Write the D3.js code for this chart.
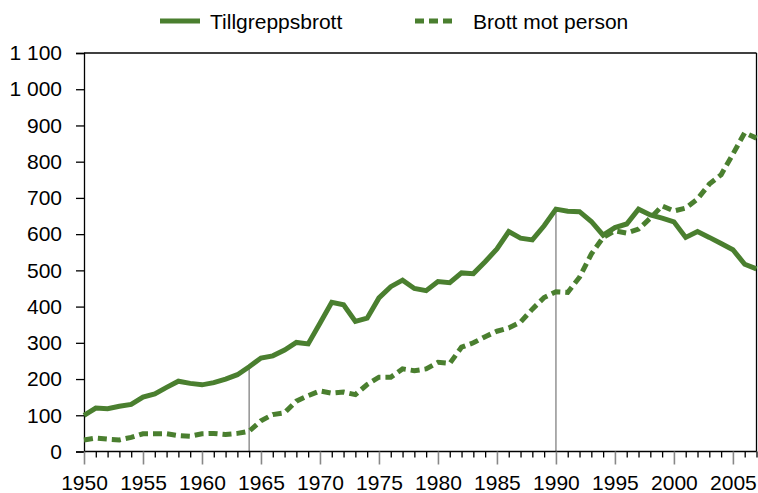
<!DOCTYPE html>
<html>
<head>
<meta charset="utf-8">
<script src="https://cdn.jsdelivr.net/npm/d3@7"></script>
<style>
  html, body { margin: 0; padding: 0; background: #fff; }
  svg { display: block; font-family: "Liberation Sans", Arial, Helvetica, sans-serif; }
</style>
</head>
<body>
<svg id="chart" width="758" height="493"></svg>
<script>
const years = d3.range(1950, 2008);
const tillgreppsbrott = [
  100, 120, 118, 125, 130, 150, 159, 177, 194, 188,
  184, 190, 200, 212, 234, 258, 264, 280, 301, 297,
  354, 412, 405, 359, 368, 424, 455, 473, 450, 444,
  469, 466, 493, 491, 524, 559, 607, 589, 584, 623,
  669, 663, 662, 635, 597, 618, 628, 669, 653, 644,
  634, 591, 607, 591, 574, 557, 517, 504
];
const brottMotPerson = [
  32, 37, 34, 32, 39, 49, 49, 49, 44, 42,
  49, 50, 47, 50, 56, 85, 102, 107, 139, 154,
  167, 161, 164, 157, 185, 205, 205, 228, 223, 228,
  246, 243, 288, 300, 317, 332, 341, 357, 393, 425,
  441, 439, 481, 545, 591, 609, 603, 614, 644, 678,
  664, 672, 697, 738, 764, 821, 880, 865
];
const seriesNames = ["Tillgreppsbrott", "Brott mot person"];
const markerYears = [1964, 1990];
const yTicks = [0, 100, 200, 300, 400, 500, 600, 700, 800, 900, 1000, 1100];
const xLabelYears = d3.range(1950, 2010, 5);

const green = "#4a7f2f";
const fontSize = 21;
const svg = d3.select("#chart");
const mLeft = 84, mRight = 756.5, mTop = 53, mBottom = 451.5;

const x = d3.scaleLinear().domain([1950, 2007]).range([mLeft, mRight]);
const y = d3.scaleLinear().domain([0, 1100]).range([mBottom, mTop]);

const fmt = v => d3.format(",")(v).replace(/,/g, " ");

// marker verticals (drawn first)
svg.append("g").selectAll("line").data(markerYears).join("line")
  .attr("x1", d => x(d)).attr("x2", d => x(d))
  .attr("y1", y(0))
  .attr("y2", d => y(tillgreppsbrott[years.indexOf(d)]))
  .attr("stroke", "#999").attr("stroke-width", 1.6);

// frame top & right
svg.append("line").attr("x1", mLeft).attr("x2", mRight).attr("y1", mTop).attr("y2", mTop)
  .attr("stroke", "#000").attr("stroke-width", 1.3);
svg.append("line").attr("x1", mRight).attr("x2", mRight).attr("y1", mTop).attr("y2", mBottom)
  .attr("stroke", "#000").attr("stroke-width", 1.3);

// y axis
const yAxis = d3.axisLeft(y).tickValues(yTicks).tickSize(8).tickPadding(14).tickFormat(fmt);
const gy = svg.append("g").attr("transform", `translate(${mLeft},0)`).call(yAxis);
gy.select(".domain").attr("stroke", "#000").attr("stroke-width", 1.3);
gy.selectAll(".tick line").attr("stroke", "#000").attr("stroke-width", 1.3);
gy.selectAll(".tick text").attr("font-size", fontSize).attr("fill", "#000")
  .attr("font-family", "'Liberation Sans', Arial, sans-serif");

// x axis minor ticks
const xMinor = d3.axisBottom(x).tickValues(years.filter(d => d % 5 !== 0)).tickSize(6).tickFormat("");
const gxm = svg.append("g").attr("transform", `translate(0,${mBottom})`).call(xMinor);
gxm.select(".domain").remove();
gxm.selectAll(".tick line").attr("stroke", "#000").attr("stroke-width", 1.3);

// x axis major ticks + labels
const xMajor = d3.axisBottom(x).tickValues(xLabelYears).tickSize(13).tickPadding(11).tickFormat(d3.format("d"));
const gx = svg.append("g").attr("transform", `translate(0,${mBottom})`).call(xMajor);
gx.select(".domain").attr("d", `M${mLeft},0H${mRight}`).attr("stroke", "#000").attr("stroke-width", 1.3);
gx.selectAll(".tick line").attr("stroke", "#888").attr("stroke-width", 1.6);
gx.selectAll(".tick text").attr("font-size", fontSize).attr("fill", "#000")
  .attr("dy", "0.68em")
  .attr("font-family", "'Liberation Sans', Arial, sans-serif");

// lines
const line = d3.line().x((d, i) => x(years[i])).y(d => y(d));
svg.append("path").datum(tillgreppsbrott).attr("d", line)
  .attr("fill", "none").attr("stroke", green).attr("stroke-width", 5).attr("stroke-linejoin", "miter");
svg.append("path").datum(brottMotPerson).attr("d", line)
  .attr("fill", "none").attr("stroke", green).attr("stroke-width", 5)
  .attr("stroke-dasharray", "9,5").attr("stroke-linejoin", "miter");

// legend
const legend = svg.append("g");
const legItems = [
  { name: seriesNames[0], x0: 160, dash: null },
  { name: seriesNames[1], x0: 415, dash: "9,5" }
];
legItems.forEach(it => {
  legend.append("line").attr("x1", it.x0).attr("x2", it.x0 + 40).attr("y1", 21).attr("y2", 21)
    .attr("stroke", green).attr("stroke-width", 5).attr("stroke-dasharray", it.dash);
  legend.append("text").attr("x", it.x0 + (it.dash ? 58 : 50)).attr("y", 28.5)
    .attr("font-size", fontSize).attr("fill", "#000").text(it.name);
});
</script>
</body>
</html>
